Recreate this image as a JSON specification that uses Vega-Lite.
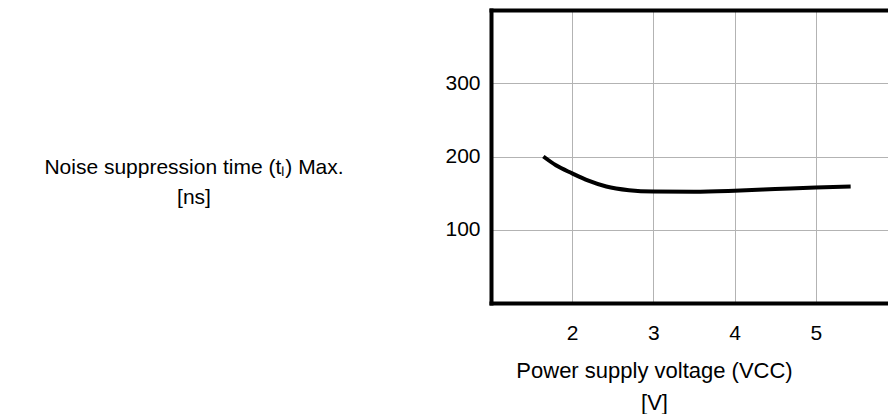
{
  "$schema": "https://vega.github.io/schema/vega-lite/v6.json",
  "width": 397,
  "height": 293,
  "autosize": "none",
  "padding": {"left": 491, "top": 10, "right": 0, "bottom": 111},
  "background": "white",
  "config": {
    "view": {"stroke": null},
    "font": "Liberation Sans",
    "axis": {
      "domainColor": "black",
      "domainWidth": 4,
      "domainCap": "square",
      "ticks": false,
      "gridColor": "#b3b3b3",
      "gridWidth": 1,
      "labelColor": "black",
      "labelFont": "Liberation Sans",
      "labelFontSize": 21,
      "titleFont": "Liberation Sans",
      "titleFontSize": 22,
      "titleFontWeight": "normal",
      "titleColor": "black"
    }
  },
  "data": {
    "values": [
      {"v": 1.645, "t": 200},
      {"v": 1.8, "t": 188},
      {"v": 2.0, "t": 177},
      {"v": 2.2, "t": 167},
      {"v": 2.42, "t": 159},
      {"v": 2.7, "t": 154},
      {"v": 3.0, "t": 152.2},
      {"v": 3.5, "t": 152},
      {"v": 4.0, "t": 153.3},
      {"v": 4.5, "t": 155.5},
      {"v": 5.0, "t": 157.8},
      {"v": 5.43, "t": 159.2}
    ]
  },
  "layer": [
    {
      "mark": {"type": "line", "color": "black", "strokeWidth": 4, "interpolate": "monotone"},
      "encoding": {
        "x": {
          "field": "v",
          "type": "quantitative",
          "scale": {"domain": [1, 5.89], "nice": false, "zero": false},
          "axis": {
            "orient": "bottom",
            "values": [2, 3, 4, 5],
            "labelPadding": 19,
            "title": ["Power supply voltage (VCC)", "[V]"],
            "titleAlign": "center",
            "titleAnchor": null,
            "titleBaseline": "alphabetic",
            "titleX": 163,
            "titleY": 74,
            "titleLineHeight": 32
          }
        },
        "y": {
          "field": "t",
          "type": "quantitative",
          "scale": {"domain": [0, 400], "nice": false, "zero": false},
          "axis": {
            "orient": "left",
            "values": [100, 200, 300],
            "labelPadding": 11,
            "title": ["Noise suppression time (tₗ) Max.", "[ns]"],
            "titleFontSize": 21,
            "titleAngle": 0,
            "titleAlign": "center",
            "titleAnchor": null,
            "titleBaseline": "alphabetic",
            "titleX": -297.5,
            "titleY": 163,
            "titleLineHeight": 30
          }
        }
      }
    },
    {
      "mark": {"type": "line", "opacity": 0},
      "encoding": {
        "x": {
          "field": "v",
          "type": "quantitative",
          "axis": {"orient": "top", "labels": false, "ticks": false, "grid": false, "title": null, "domain": true}
        }
      }
    }
  ],
  "resolve": {"axis": {"x": "independent"}}
}
